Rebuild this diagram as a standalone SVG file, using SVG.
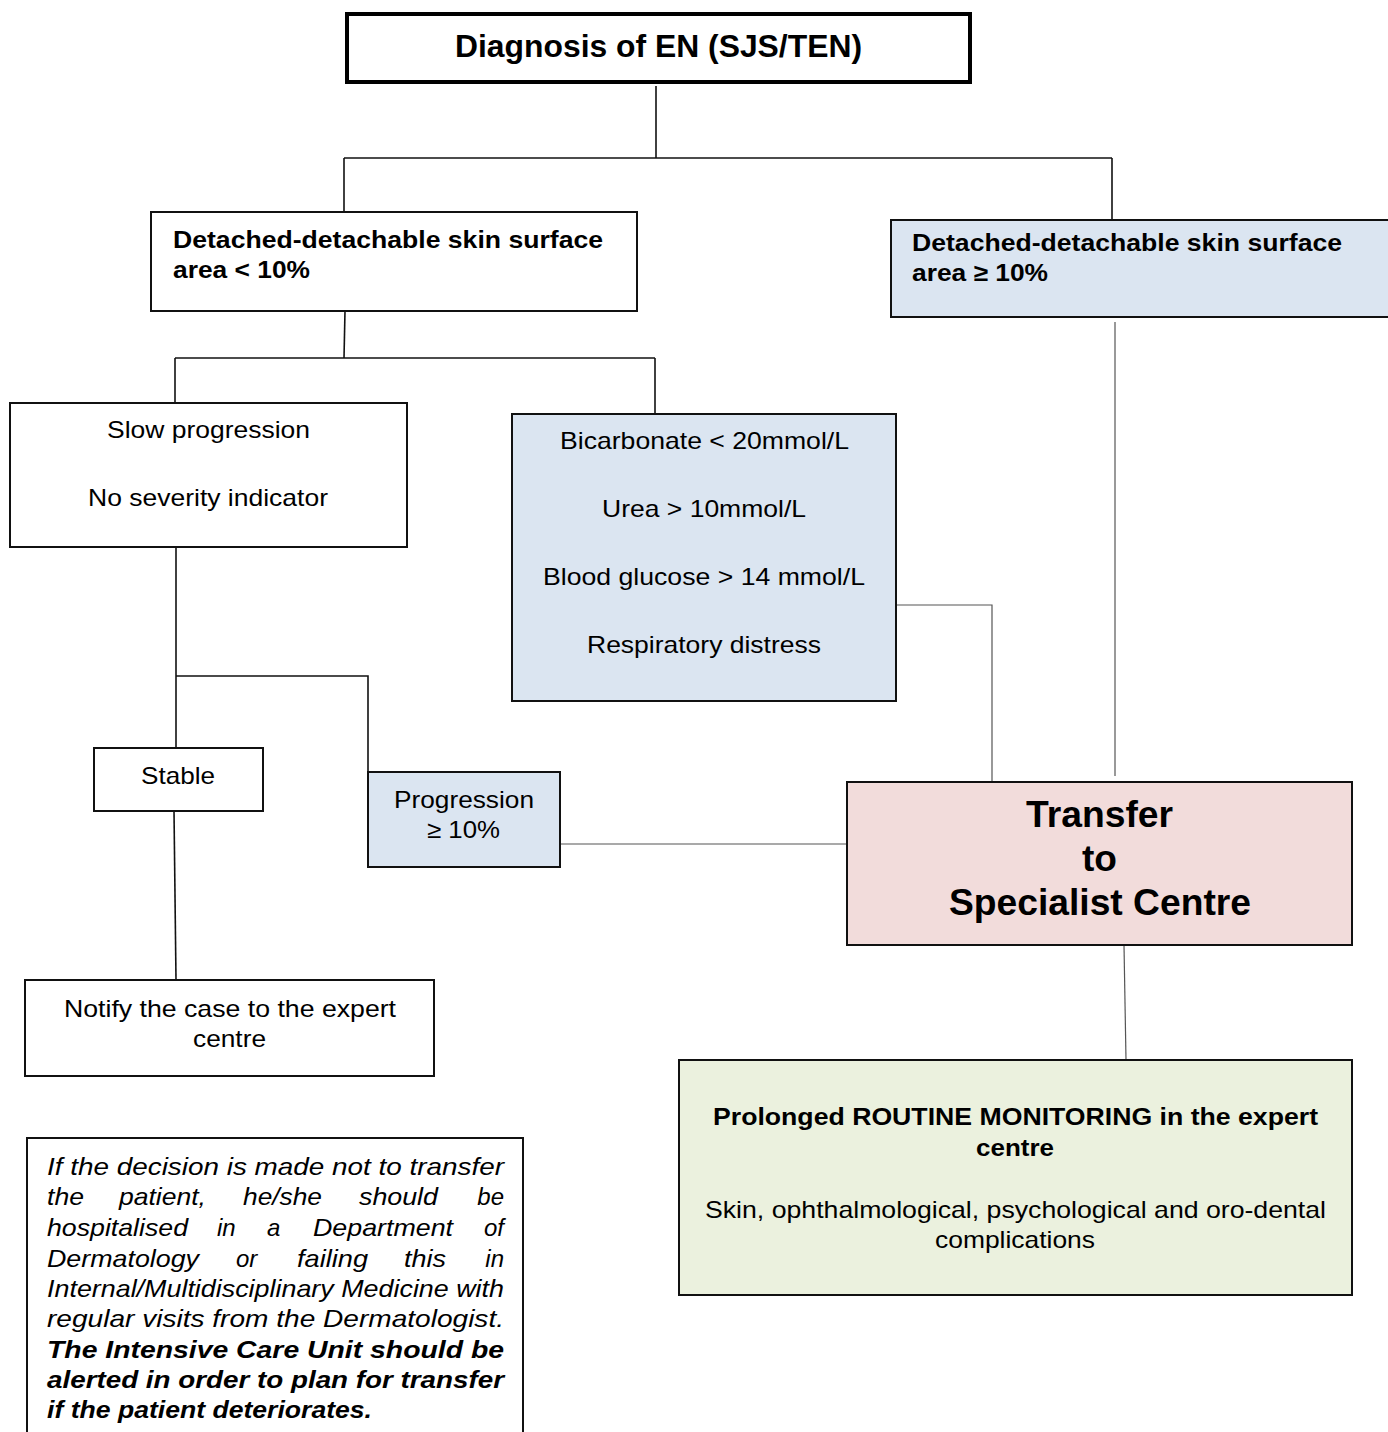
<svg xmlns="http://www.w3.org/2000/svg" width="1388" height="1432" viewBox="0 0 1388 1432">
<style>
.bx{stroke:#111;stroke-width:2;fill:#fff}
.blue{fill:#dbe5f1}
.pink{fill:#f2dcdb}
.green{fill:#ebf1de}
.c{fill:none;stroke:#111;stroke-width:1.6}
.cg{fill:none;stroke:#555;stroke-width:1.2}
text{font-family:"Liberation Sans",Arial,sans-serif;fill:#000}
.b{font-weight:bold;font-size:24px}
.r{font-size:24px}
.t{font-weight:bold;font-size:31px}
.tr{font-weight:bold;font-size:37px}
.i{font-style:italic;font-size:24px}
.ib{font-style:italic;font-weight:bold;font-size:24px}
.e{text-anchor:end}
</style>
<rect width="1388" height="1432" fill="#fff"/>
<g id="connectors">
<path class="c" d="M656,86 V158"/>
<path class="c" d="M344,158 H1112"/>
<path class="c" d="M344,158 V212"/>
<path class="c" d="M1112,158 V220"/>
<path class="c" d="M345,311 L344,358"/>
<path class="c" d="M175,358 H655"/>
<path class="c" d="M175,358 V403"/>
<path class="c" d="M655,358 V414"/>
<path class="cg" d="M1115,322 V776"/>
<path class="cg" d="M896,605 H992 V782"/>
<path class="c" d="M176,547 V748"/>
<path class="c" d="M176,676 H368 V772"/>
<path class="cg" d="M560,844 H847"/>
<path class="c" d="M174,811 L176,980"/>
<path class="cg" d="M1124,945 L1126,1060"/>
</g>
<g id="n-diagnosis">
<rect x="347" y="14" width="623" height="68" fill="#fff" stroke="#000" stroke-width="4"/>
<text class="t" x="455" y="57" textLength="407" lengthAdjust="spacingAndGlyphs">Diagnosis of EN (SJS/TEN)</text>
</g>
<g id="n-lt10">
<rect class="bx" x="151" y="212" width="486" height="99"/>
<text class="b" x="173" y="248" textLength="430" lengthAdjust="spacingAndGlyphs">Detached-detachable skin surface</text>
<text class="b" x="173" y="278" textLength="137" lengthAdjust="spacingAndGlyphs">area &lt; 10%</text>
</g>
<g id="n-ge10">
<rect class="bx blue" x="891" y="220" width="505" height="97"/>
<text class="b" x="912" y="251" textLength="430" lengthAdjust="spacingAndGlyphs">Detached-detachable skin surface</text>
<text class="b" x="912" y="281" textLength="136" lengthAdjust="spacingAndGlyphs">area ≥ 10%</text>
</g>
<g id="n-slow">
<rect class="bx" x="10" y="403" width="397" height="144"/>
<text class="r" x="107" y="438" textLength="203" lengthAdjust="spacingAndGlyphs">Slow progression</text>
<text class="r" x="88" y="506" textLength="240" lengthAdjust="spacingAndGlyphs">No severity indicator</text>
</g>
<g id="n-indicators">
<rect class="bx blue" x="512" y="414" width="384" height="287"/>
<text class="r" x="560" y="449" textLength="289" lengthAdjust="spacingAndGlyphs">Bicarbonate &lt; 20mmol/L</text>
<text class="r" x="602" y="517" textLength="204" lengthAdjust="spacingAndGlyphs">Urea &gt; 10mmol/L</text>
<text class="r" x="543" y="585" textLength="322" lengthAdjust="spacingAndGlyphs">Blood glucose &gt; 14 mmol/L</text>
<text class="r" x="587" y="653" textLength="234" lengthAdjust="spacingAndGlyphs">Respiratory distress</text>
</g>
<g id="n-stable">
<rect class="bx" x="94" y="748" width="169" height="63"/>
<text class="r" x="141" y="784" textLength="74" lengthAdjust="spacingAndGlyphs">Stable</text>
</g>
<g id="n-progression">
<rect class="bx blue" x="368" y="772" width="192" height="95"/>
<text class="r" x="394" y="808" textLength="140" lengthAdjust="spacingAndGlyphs">Progression</text>
<text class="r" x="427" y="838" textLength="73" lengthAdjust="spacingAndGlyphs">≥ 10%</text>
</g>
<g id="n-transfer">
<rect class="bx pink" x="847" y="782" width="505" height="163"/>
<text class="tr" x="1026" y="827" textLength="147" lengthAdjust="spacingAndGlyphs">Transfer</text>
<text class="tr" x="1082" y="871" textLength="35" lengthAdjust="spacingAndGlyphs">to</text>
<text class="tr" x="949" y="915" textLength="302" lengthAdjust="spacingAndGlyphs">Specialist Centre</text>
</g>
<g id="n-notify">
<rect class="bx" x="25" y="980" width="409" height="96"/>
<text class="r" x="64" y="1017" textLength="332" lengthAdjust="spacingAndGlyphs">Notify the case to the expert</text>
<text class="r" x="193" y="1047" textLength="73" lengthAdjust="spacingAndGlyphs">centre</text>
</g>
<g id="n-monitoring">
<rect class="bx green" x="679" y="1060" width="673" height="235"/>
<text class="b" x="713" y="1125" textLength="605" lengthAdjust="spacingAndGlyphs">Prolonged ROUTINE MONITORING in the expert</text>
<text class="b" x="976" y="1156" textLength="78" lengthAdjust="spacingAndGlyphs">centre</text>
<text class="r" x="705" y="1218" textLength="621" lengthAdjust="spacingAndGlyphs">Skin, ophthalmological, psychological and oro-dental</text>
<text class="r" x="935" y="1248" textLength="160" lengthAdjust="spacingAndGlyphs">complications</text>
</g>
<g id="n-note">
<rect class="bx" x="27" y="1138" width="496" height="310"/>
<text class="i" x="47" y="1175" textLength="457" lengthAdjust="spacingAndGlyphs">If the decision is made not to transfer</text>
<text class="i" x="47" y="1205" textLength="37" lengthAdjust="spacingAndGlyphs">the</text>
<text class="i" x="119" y="1205" textLength="87" lengthAdjust="spacingAndGlyphs">patient,</text>
<text class="i" x="243" y="1205" textLength="79" lengthAdjust="spacingAndGlyphs">he/she</text>
<text class="i" x="359" y="1205" textLength="79" lengthAdjust="spacingAndGlyphs">should</text>
<text class="i e" x="504" y="1205">be</text>
<text class="i" x="47" y="1236" textLength="141" lengthAdjust="spacingAndGlyphs">hospitalised</text>
<text class="i" x="217" y="1236">in</text>
<text class="i" x="267" y="1236">a</text>
<text class="i" x="313" y="1236" textLength="140" lengthAdjust="spacingAndGlyphs">Department</text>
<text class="i e" x="504" y="1236">of</text>
<text class="i" x="47" y="1267" textLength="152" lengthAdjust="spacingAndGlyphs">Dermatology</text>
<text class="i" x="236" y="1267">or</text>
<text class="i" x="297" y="1267" textLength="71" lengthAdjust="spacingAndGlyphs">failing</text>
<text class="i" x="404" y="1267" textLength="42" lengthAdjust="spacingAndGlyphs">this</text>
<text class="i e" x="504" y="1267">in</text>
<text class="i" x="47" y="1297" textLength="457" lengthAdjust="spacingAndGlyphs">Internal/Multidisciplinary Medicine with</text>
<text class="i" x="47" y="1327" textLength="457" lengthAdjust="spacingAndGlyphs">regular visits from the Dermatologist.</text>
<text class="ib" x="47" y="1358" textLength="457" lengthAdjust="spacingAndGlyphs">The Intensive Care Unit should be</text>
<text class="ib" x="47" y="1388" textLength="457" lengthAdjust="spacingAndGlyphs">alerted in order to plan for transfer</text>
<text class="ib" x="47" y="1418" textLength="325" lengthAdjust="spacingAndGlyphs">if the patient deteriorates.</text>
</g>
</svg>
